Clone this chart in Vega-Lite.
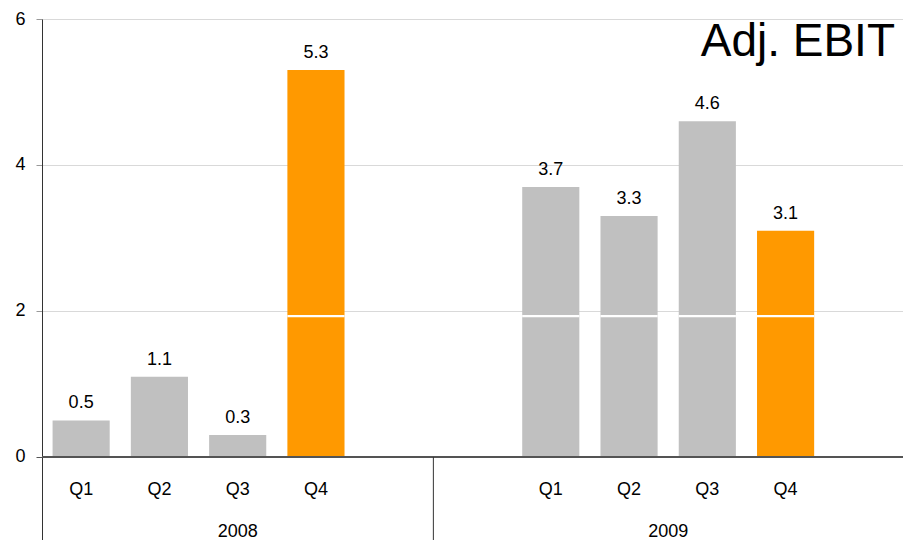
{
  "$schema": "https://vega.github.io/schema/vega-lite/v6.json",
  "width": 861,
  "height": 521,
  "autosize": {"type": "none"},
  "padding": {"left": 42, "top": 19, "right": 0, "bottom": 0},
  "background": "white",
  "title": {
    "text": "Adj. EBIT",
    "anchor": "end",
    "frame": "group",
    "orient": "top",
    "offset": 0,
    "baseline": "alphabetic",
    "dy": 92,
    "dx": -8,
    "fontSize": 46,
    "fontWeight": "normal",
    "font": "Liberation Sans",
    "color": "#000000"
  },
  "data": {
    "values": [
      {"slot": "2008 Q1", "year": "2008", "quarter": "Q1", "value": 0.5},
      {"slot": "2008 Q2", "year": "2008", "quarter": "Q2", "value": 1.1},
      {"slot": "2008 Q3", "year": "2008", "quarter": "Q3", "value": 0.3},
      {"slot": "2008 Q4", "year": "2008", "quarter": "Q4", "value": 5.3},
      {"slot": "2009 Q1", "year": "2009", "quarter": "Q1", "value": 3.7},
      {"slot": "2009 Q2", "year": "2009", "quarter": "Q2", "value": 3.3},
      {"slot": "2009 Q3", "year": "2009", "quarter": "Q3", "value": 4.6},
      {"slot": "2009 Q4", "year": "2009", "quarter": "Q4", "value": 3.1}
    ]
  },
  "encoding": {
    "x": {
      "field": "slot",
      "type": "nominal",
      "sort": null,
      "scale": {
        "domain": ["2008 Q1", "2008 Q2", "2008 Q3", "2008 Q4", "2008 end", "2009 start", "2009 Q1", "2009 Q2", "2009 Q3", "2009 Q4", "2009 end"],
        "paddingInner": 0,
        "paddingOuter": 0
      },
      "axis": null
    }
  },
  "layer": [
    {
      "mark": {"type": "bar", "width": {"band": 0.73}},
      "encoding": {
        "y": {
          "field": "value",
          "type": "quantitative",
          "scale": {"domain": [-1.137, 6], "nice": false, "zero": false},
          "axis": {
            "title": null,
            "values": [0, 2, 4, 6],
            "format": "d",
            "grid": true,
            "gridColor": "#d9d9d9",
            "gridWidth": 1,
            "domainColor": "#333333",
            "domainWidth": 1,
            "tickSize": 6,
            "tickColor": {"condition": {"test": "datum.value === 0", "value": "#555555"}, "value": "#999999"},
            "labelPadding": 11,
            "labelFont": "Liberation Sans",
            "labelFontSize": 18,
            "labelColor": "#000000"
          }
        },
        "color": {
          "field": "quarter",
          "type": "nominal",
          "scale": {"domain": ["Q1", "Q2", "Q3", "Q4"], "range": ["#c0c0c0", "#c0c0c0", "#c0c0c0", "#ff9900"]},
          "legend": null
        }
      }
    },
    {
      "transform": [{"filter": "datum.value > 2"}],
      "mark": {"type": "bar", "color": "white", "width": {"band": 0.73}},
      "encoding": {
        "y": {"datum": 1.915, "type": "quantitative"},
        "y2": {"datum": 1.945}
      }
    },
    {
      "mark": {"type": "rule", "color": "#555555", "strokeWidth": 1.5},
      "encoding": {"x": null, "y": {"datum": 0, "type": "quantitative"}}
    },
    {
      "transform": [{"filter": "datum.slot === '2009 Q1'"}],
      "mark": {"type": "rule", "color": "#333333", "strokeWidth": 1},
      "encoding": {
        "x": {"datum": "2009 start", "type": "nominal", "bandPosition": 0},
        "y": {"datum": 0, "type": "quantitative"},
        "y2": {"datum": -1.137}
      }
    },
    {
      "mark": {"type": "text", "baseline": "alphabetic", "dy": -12, "font": "Liberation Sans", "fontSize": 18, "color": "#000000"},
      "encoding": {
        "y": {"field": "value", "type": "quantitative"},
        "text": {"field": "value", "type": "quantitative", "format": ".1f"}
      }
    },
    {
      "mark": {"type": "text", "baseline": "alphabetic", "font": "Liberation Sans", "fontSize": 18, "color": "#000000"},
      "encoding": {
        "y": {"datum": -0.52, "type": "quantitative"},
        "text": {"field": "quarter", "type": "nominal"}
      }
    },
    {
      "transform": [{"filter": "datum.slot === '2008 Q3'"}],
      "mark": {"type": "text", "baseline": "alphabetic", "font": "Liberation Sans", "fontSize": 18, "color": "#000000"},
      "encoding": {
        "y": {"datum": -1.096, "type": "quantitative"},
        "text": {"field": "year", "type": "nominal"}
      }
    },
    {
      "transform": [{"filter": "datum.slot === '2009 Q3'"}],
      "mark": {"type": "text", "baseline": "alphabetic", "font": "Liberation Sans", "fontSize": 18, "color": "#000000"},
      "encoding": {
        "x": {"field": "slot", "type": "nominal", "bandPosition": 0},
        "y": {"datum": -1.096, "type": "quantitative"},
        "text": {"field": "year", "type": "nominal"}
      }
    }
  ],
  "config": {
    "view": {"stroke": null},
    "font": "Liberation Sans"
  }
}
